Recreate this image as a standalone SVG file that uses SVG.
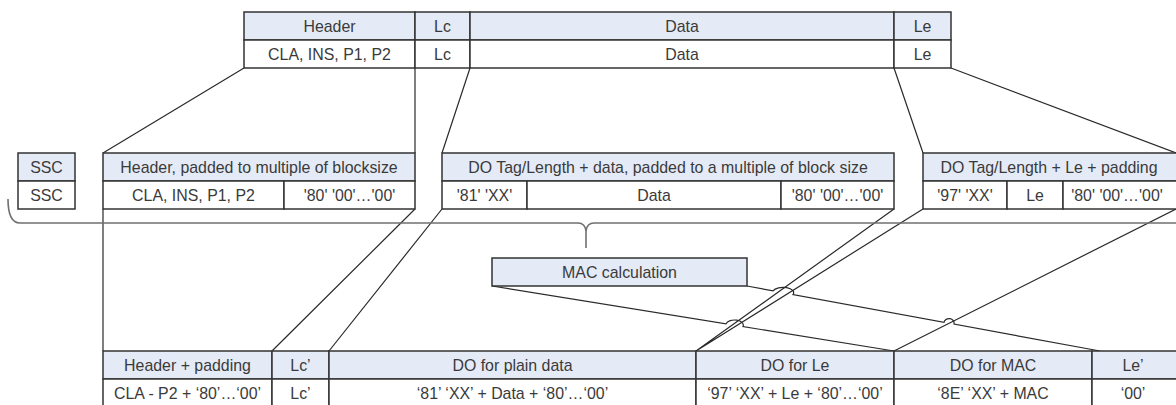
<svg xmlns="http://www.w3.org/2000/svg" width="1176" height="405" viewBox="0 0 1176 405">
<style>
.h{fill:#e5ebf6;stroke:#333;stroke-width:1.5}
.d{fill:#fff;stroke:#333;stroke-width:1.5}
text{font-family:"Liberation Sans",Arial,sans-serif;font-size:15.9px;fill:#3a3a3a;text-anchor:middle}
.c{fill:none;stroke:#2a2a2a;stroke-width:1.2}
.b{fill:none;stroke:#707070;stroke-width:1.6}
</style>
<rect width="1176" height="405" fill="#fff"/>
<g id="connectors">
<path class="c" d="M244,68 L103,153 M415,68 L415,153 M470,68 L442,153 M894,68 L923,153 M951,68 L1176,153"/>
<path class="c" d="M103,209 L103,351 M415,209 L272,351 M442,209 L329,351 M894,209 L696,351 M923,209 L696,351 M1176,209 L894,351"/>
<path class="c" d="M492,286 L726,323.8 A8.5,5 0 0 1 743,326.6 L894,351"/>
<path class="c" d="M747,286 L773,290.8 A10,5 0 0 1 793,294.5 L944,322.3 A5,4.5 0 0 1 954,324.1 L1100,351"/>
<path class="b" d="M8,199 Q8,223 20,223 L578,223 Q585,223 586,231 L586,248 M594,223 Q587,223 586,231 M594,223 L1176,223"/>
</g>
<g id="top-apdu">
<rect class="h" x="244" y="12" width="171" height="28"/>
<rect class="h" x="415" y="12" width="55" height="28"/>
<rect class="h" x="470" y="12" width="424" height="28"/>
<rect class="h" x="894" y="12" width="57" height="28"/>
<rect class="d" x="244" y="40" width="171" height="28"/>
<rect class="d" x="415" y="40" width="55" height="28"/>
<rect class="d" x="470" y="40" width="424" height="28"/>
<rect class="d" x="894" y="40" width="57" height="28"/>
<text x="329.5" y="31.5">Header</text>
<text x="442.5" y="31.5">Lc</text>
<text x="682" y="31.5">Data</text>
<text x="922.5" y="31.5">Le</text>
<text x="329.5" y="59.5">CLA, INS, P1, P2</text>
<text x="442.5" y="59.5">Lc</text>
<text x="682" y="59.5">Data</text>
<text x="922.5" y="59.5">Le</text>
</g>
<g id="ssc">
<rect class="h" x="18" y="153" width="57" height="28"/>
<rect class="d" x="18" y="181" width="57" height="28"/>
<text x="46.5" y="172.5">SSC</text>
<text x="46.5" y="200.5">SSC</text>
</g>
<g id="header-padded">
<rect class="h" x="103" y="153" width="312" height="28"/>
<rect class="d" x="103" y="181" width="181" height="28"/>
<rect class="d" x="284" y="181" width="131" height="28"/>
<text x="259" y="172.5">Header, padded to multiple of blocksize</text>
<text x="193.5" y="200.5">CLA, INS, P1, P2</text>
<text x="349.5" y="200.5">'80' '00'…'00'</text>
</g>
<g id="do-data">
<rect class="h" x="442" y="153" width="452" height="28"/>
<rect class="d" x="442" y="181" width="85" height="28"/>
<rect class="d" x="527" y="181" width="254" height="28"/>
<rect class="d" x="781" y="181" width="113" height="28"/>
<text x="668" y="172.5">DO Tag/Length + data, padded to a multiple of block size</text>
<text x="484.5" y="200.5">'81' 'XX'</text>
<text x="654" y="200.5">Data</text>
<text x="837.5" y="200.5">'80' '00'…'00'</text>
</g>
<g id="do-le">
<rect class="h" x="923" y="153" width="255" height="28"/>
<rect class="d" x="923" y="181" width="84" height="28"/>
<rect class="d" x="1007" y="181" width="56" height="28"/>
<rect class="d" x="1063" y="181" width="115" height="28"/>
<text x="1049" y="172.5">DO Tag/Length + Le + padding</text>
<text x="965" y="200.5">'97' 'XX'</text>
<text x="1035" y="200.5">Le</text>
<text x="1117" y="200.5">'80' '00'…'00'</text>
</g>
<g id="mac-calculation">
<rect class="h" x="492" y="258" width="255" height="28"/>
<text x="619.5" y="277.5">MAC calculation</text>
</g>
<g id="protected-apdu">
<rect class="h" x="103" y="351" width="169" height="28"/>
<rect class="h" x="272" y="351" width="57" height="28"/>
<rect class="h" x="329" y="351" width="367" height="28"/>
<rect class="h" x="696" y="351" width="198" height="28"/>
<rect class="h" x="894" y="351" width="198" height="28"/>
<rect class="h" x="1092" y="351" width="86" height="28"/>
<rect class="d" x="103" y="379" width="169" height="28"/>
<rect class="d" x="272" y="379" width="57" height="28"/>
<rect class="d" x="329" y="379" width="367" height="28"/>
<rect class="d" x="696" y="379" width="198" height="28"/>
<rect class="d" x="894" y="379" width="198" height="28"/>
<rect class="d" x="1092" y="379" width="86" height="28"/>
<text x="187.5" y="370.5">Header + padding</text>
<text x="300.5" y="370.5">Lc’</text>
<text x="512.5" y="370.5">DO for plain data</text>
<text x="795" y="370.5">DO for Le</text>
<text x="993" y="370.5">DO for MAC</text>
<text x="1133" y="370.5">Le’</text>
<text x="187.5" y="398.5">CLA - P2 + ‘80’…‘00’</text>
<text x="300.5" y="398.5">Lc’</text>
<text x="512.5" y="398.5">‘81’ ‘XX’ + Data + ‘80’…‘00’</text>
<text x="795" y="398.5">‘97’ ‘XX’ + Le + ‘80’…‘00’</text>
<text x="993" y="398.5">‘8E’ ‘XX’ + MAC</text>
<text x="1133" y="398.5">‘00’</text>
</g>
</svg>
